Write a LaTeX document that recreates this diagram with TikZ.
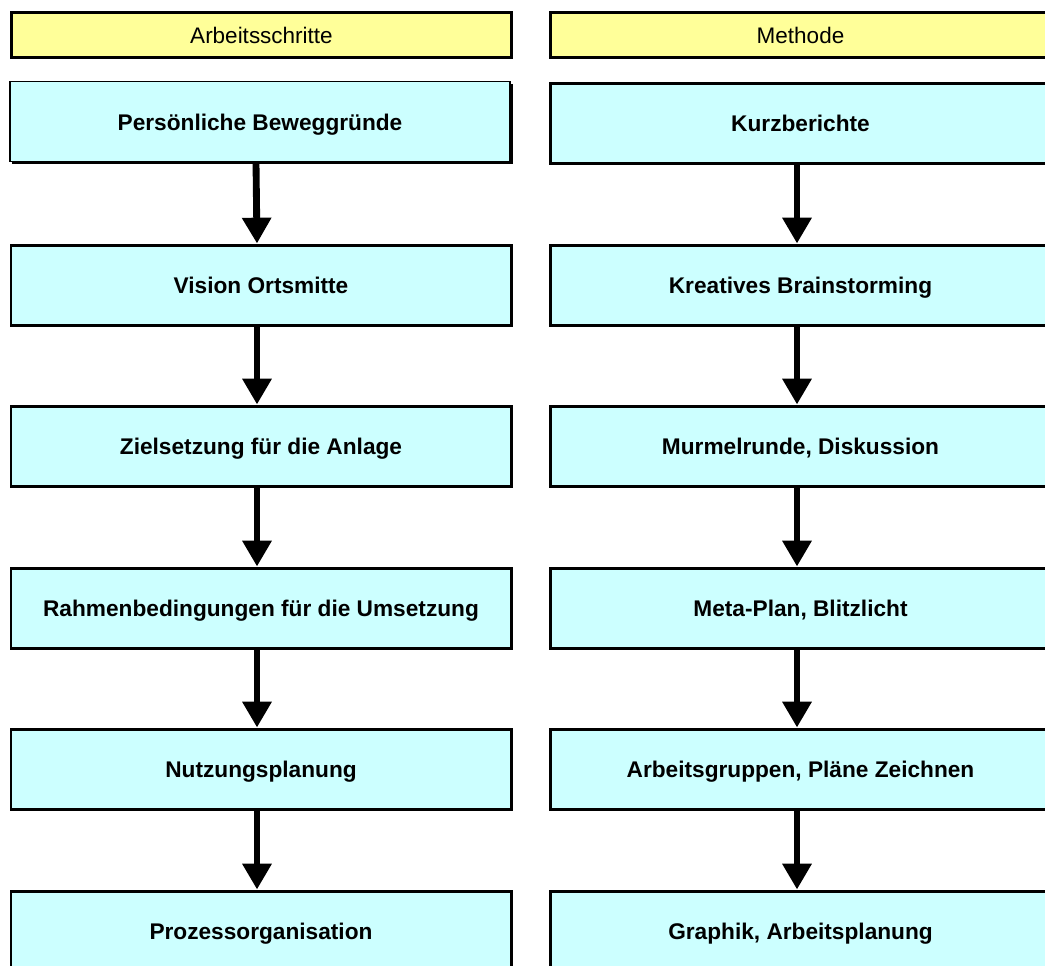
\documentclass[tikz,border=0pt]{standalone}
\usepackage{fontspec}
\setmainfont{Liberation Sans}
\usepackage{tikz}
\usetikzlibrary{arrows.meta,shadows}

\definecolor{headyellow}{HTML}{FFFF99}
\definecolor{boxcyan}{HTML}{CCFFFF}

\begin{document}
\begin{tikzpicture}[>=stealth,
    head/.style={draw, line width=1.7pt, fill=headyellow, minimum width=10.0cm,
      minimum height=0.9cm, text height=0.98em, text depth=0pt,
      font=\fontsize{12.8pt}{15pt}\selectfont},
    stepbox/.style={draw, line width=1.7pt, fill=boxcyan, minimum width=10.0cm,
      minimum height=1.6cm, text height=0.98em, text depth=0pt,
      font=\fontsize{12.9pt}{15pt}\selectfont\bfseries},
    flow/.style={line width=3.9pt, -{Triangle[width=15.9pt,length=14.7pt]}}]
      % Fix the frame
      \useasboundingbox (0,0) rectangle (20.9,-19.3);

      % Draw the headers
      \node[head] (hl) at (5.23,-0.69) {Arbeitsschritte};
      \node[head] (hr) at (16.01,-0.69) {Methode};

      % Draw the working steps
      \node[stepbox, line width=1pt, drop shadow={shadow xshift=0.05cm, shadow yshift=-0.05cm, fill=black, opacity=1}]
        (l1) at (5.20,-2.43) {Persönliche Beweggründe};
      \node[stepbox] (l2) at (5.22,-5.70) {Vision Ortsmitte};
      \node[stepbox] (l3) at (5.22,-8.92) {Zielsetzung für die Anlage};
      \node[stepbox] (l4) at (5.22,-12.16) {Rahmenbedingungen für die Umsetzung};
      \node[stepbox] (l5) at (5.22,-15.38) {Nutzungsplanung};
      \node[stepbox] (l6) at (5.22,-18.62) {Prozessorganisation};

      % Draw the methods
      \node[stepbox] (r1) at (16.01,-2.46) {Kurzberichte};
      \node[stepbox] (r2) at (16.01,-5.70) {Kreatives Brainstorming};
      \node[stepbox] (r3) at (16.01,-8.92) {Murmelrunde, Diskussion};
      \node[stepbox] (r4) at (16.01,-12.16) {Meta-Plan, Blitzlicht};
      \node[stepbox] (r5) at (16.01,-15.38) {Arbeitsgruppen, Pläne Zeichnen};
      \node[stepbox] (r6) at (16.01,-18.62) {Graphik, Arbeitsplanung};

      % Draw the arrows
      \draw[flow] ([xshift=-0.08cm]l1.south) -- ([xshift=-0.08cm]l2.north);
      \draw[flow] ([xshift=-0.08cm]l2.south) -- ([xshift=-0.08cm]l3.north);
      \draw[flow] ([xshift=-0.08cm]l3.south) -- ([xshift=-0.08cm]l4.north);
      \draw[flow] ([xshift=-0.08cm]l4.south) -- ([xshift=-0.08cm]l5.north);
      \draw[flow] ([xshift=-0.08cm]l5.south) -- ([xshift=-0.08cm]l6.north);
      \draw[flow] ([xshift=-0.07cm]r1.south) -- ([xshift=-0.07cm]r2.north);
      \draw[flow] ([xshift=-0.07cm]r2.south) -- ([xshift=-0.07cm]r3.north);
      \draw[flow] ([xshift=-0.07cm]r3.south) -- ([xshift=-0.07cm]r4.north);
      \draw[flow] ([xshift=-0.07cm]r4.south) -- ([xshift=-0.07cm]r5.north);
      \draw[flow] ([xshift=-0.07cm]r5.south) -- ([xshift=-0.07cm]r6.north);
    \end{tikzpicture}
\end{document}
